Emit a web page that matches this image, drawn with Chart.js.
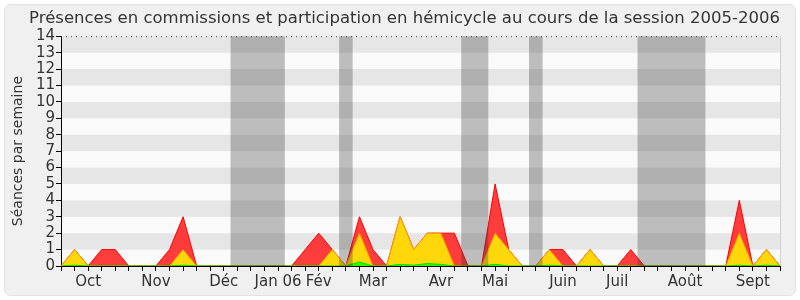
<!DOCTYPE html>
<html>
<head>
<meta charset="utf-8">
<script src="https://cdn.jsdelivr.net/npm/chart.js@4.4.0/dist/chart.umd.min.js"></script>
<style>
    body { margin: 0; background: #ffffff; }
    #presences { display: block; }
</style>
</head>
<body>
<canvas id="presences" width="800" height="300"></canvas>
<script>
// une valeur par semaine, session 2005-2006
var weekLabels = [
    '', '', 'Oct', '', '', '', '', 'Nov', '', '', '', '', 'Déc', '', '', '', 'Jan 06', '', '',
    'Fév', '', '', '', 'Mar', '', '', '', '', 'Avr', '', '', '', 'Mai', '', '', '', '', 'Juin',
    '', '', '', 'Juil', '', '', '', '', 'Août', '', '', '', '', 'Sept', '', ''
];
var commissions = [
    0, 1, 0, 1, 1, 0, 0, 0, 1, 3, 0, 0, 0, 0, 0, 0, 0, 0, 1, 2, 1, 0, 3, 1, 0, 3, 1,
    2, 2, 2, 0, 0, 5, 1, 0, 0, 1, 1, 0, 1, 0, 0, 1, 0, 0, 0, 0, 0, 0, 0, 4, 0, 1, 0
];
var hemicycle = [
    0, 1, 0, 0, 0, 0, 0, 0, 0, 1, 0, 0, 0, 0, 0, 0, 0, 0, 0, 0, 1, 0, 2, 0, 0, 3, 1,
    2, 2, 0, 0, 0, 2, 1, 0, 0, 1, 0, 0, 1, 0, 0, 0, 0, 0, 0, 0, 0, 0, 0, 2, 0, 1, 0
];
var interventions = [
    0, 0.05, 0, 0, 0, 0, 0, 0, 0, 0.05, 0, 0, 0, 0, 0, 0, 0, 0, 0, 0, 0, 0, 0.25, 0, 0, 0.1, 0.05,
    0.15, 0.1, 0, 0, 0, 0.1, 0, 0, 0, 0.05, 0, 0, 0, 0, 0, 0, 0, 0, 0, 0, 0, 0, 0, 0.05, 0, 0.05, 0
];
// vacances parlementaires (index de semaine début / fin)
var vacances = [[12.5, 16.5], [20.5, 21.5], [29.5, 31.5], [34.5, 35.5], [42.5, 47.5]];

var fontName = "'DejaVu Sans', sans-serif";

// fond du graphique + bandes horizontales
var backgroundPlugin = {
    id: 'fond',
    beforeDraw: function (chart) {
        var ctx = chart.ctx;
        var a = chart.chartArea;
        var y = chart.scales.y;
        ctx.save();
        ctx.fillStyle = '#ffffff';
        ctx.fillRect(0, 0, chart.width, chart.height);
        ctx.beginPath();
        ctx.roundRect(4.5, 4.5, chart.width - 9, chart.height - 9, 6);
        ctx.fillStyle = '#f0f0f0';
        ctx.fill();
        ctx.strokeStyle = '#e2e2e2';
        ctx.lineWidth = 1;
        ctx.stroke();
        for (var v = 0; v < 14; v++) {
            ctx.fillStyle = (v % 2 == 0) ? '#fafafa' : '#e6e6e6';
            var top = y.getPixelForValue(v + 1);
            var bottom = y.getPixelForValue(v);
            ctx.fillRect(a.left, top, a.right - a.left, bottom - top);
        }
        ctx.restore();
    },
    afterDatasetsDraw: function (chart) {
        var ctx = chart.ctx;
        var a = chart.chartArea;
        var x = chart.scales.x;
        ctx.save();
        ctx.fillStyle = 'rgba(50, 50, 50, 0.3)';
        vacances.forEach(function (v) {
            var x1 = x.getPixelForValue(v[0]);
            var x2 = x.getPixelForValue(v[1]);
            ctx.fillRect(x1, a.top, x2 - x1, a.bottom - a.top);
        });
        // pointillés en haut
        ctx.strokeStyle = '#444444';
        ctx.setLineDash([1, 4]);
        ctx.beginPath();
        ctx.moveTo(a.left, a.top + 0.5);
        ctx.lineTo(a.right, a.top + 0.5);
        ctx.stroke();
        ctx.setLineDash([]);
        ctx.strokeStyle = '#d0d0d0';
        ctx.beginPath();
        ctx.moveTo(a.right + 0.5, a.top);
        ctx.lineTo(a.right + 0.5, a.bottom);
        ctx.stroke();
        ctx.restore();
    }
};

var config = {
    type: 'line',
    data: {
        labels: weekLabels,
        datasets: [{
            label: 'Interventions',
            data: interventions,
            borderColor: '#00dd00',
            backgroundColor: 'rgba(0, 255, 0, 0.8)',
            borderWidth: 1,
            fill: 'origin',
            order: 1
        }, {
            label: 'Hémicycle',
            data: hemicycle,
            borderColor: '#ff9900',
            backgroundColor: 'rgba(255, 215, 10, 1)',
            borderWidth: 1,
            fill: 'origin',
            order: 2
        }, {
            label: 'Commissions',
            data: commissions,
            borderColor: '#ff0000',
            backgroundColor: 'rgba(255, 40, 40, 0.9)',
            borderWidth: 1,
            fill: 'origin',
            order: 3
        }]
    },
    options: {
        responsive: false,
        animation: false,
        elements: {
            point: { radius: 0 },
            line: { tension: 0 }
        },
        layout: { padding: { left: 0, right: 20, top: 0, bottom: 0 } },
        plugins: {
            legend: { display: false },
            tooltip: { enabled: false },
            title: {
                display: true,
                align: 'end',
                text: 'Présences en commissions et participation en hémicycle au cours de la session 2005-2006',
                color: '#333333',
                font: { family: fontName, size: 16.5, weight: 'normal' },
                padding: { top: 9, bottom: 7.4 }
            }
        },
        scales: {
            x: {
                grid: {
                    drawOnChartArea: false,
                    drawTicks: true,
                    tickLength: 5,
                    color: '#000000'
                },
                border: { color: '#000000' },
                ticks: {
                    autoSkip: false,
                    maxRotation: 0,
                    padding: 2,
                    color: '#333333',
                    font: { family: fontName, size: 15 }
                },
                afterFit: function (scale) { scale.height = 34; }
            },
            y: {
                min: 0,
                max: 14,
                grid: {
                    drawOnChartArea: false,
                    drawTicks: true,
                    tickLength: 5,
                    color: '#000000'
                },
                border: { color: '#000000' },
                ticks: {
                    stepSize: 1,
                    autoSkip: false,
                    padding: 1,
                    color: '#333333',
                    font: { family: fontName, size: 15 }
                },
                title: {
                    display: true,
                    text: 'Séances par semaine',
                    color: '#333333',
                    font: { family: fontName, size: 14 },
                    padding: { top: 10, bottom: 0 }
                },
                afterFit: function (scale) { scale.width = 61; }
            }
        }
    },
    plugins: [backgroundPlugin]
};

var myChart = new Chart(document.getElementById('presences'), config);
</script>
</body>
</html>
